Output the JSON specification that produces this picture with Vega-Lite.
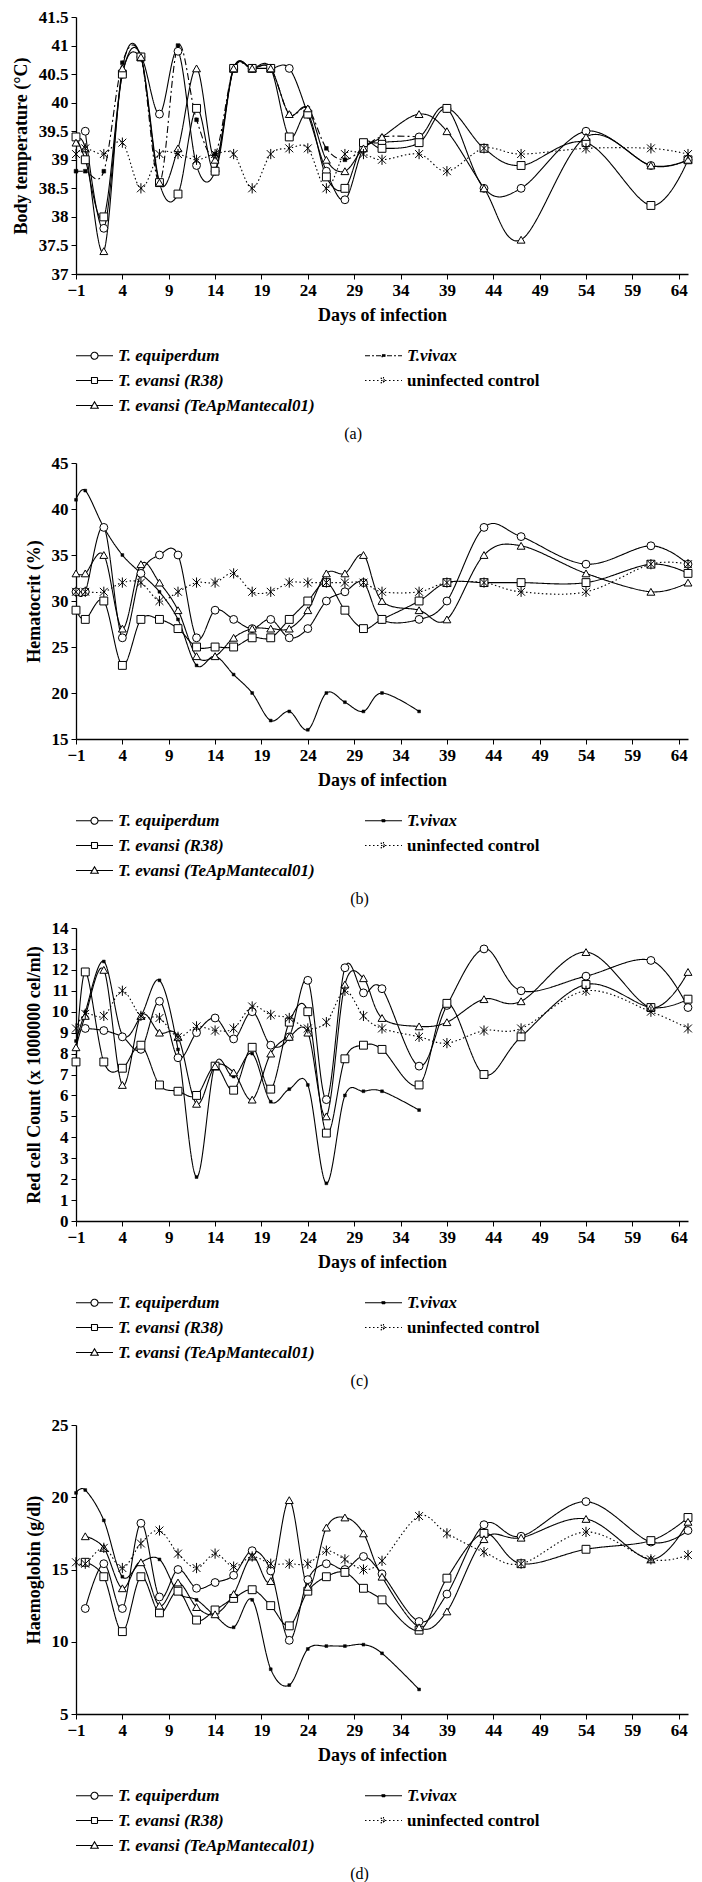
{
  "$schema": "https://vega.github.io/schema/vega-lite/v6.json",
  "padding": {"top": 8, "left": 12, "right": 5, "bottom": 5},
  "background": "white",
  "config": {
    "view": {"stroke": null},
    "font": "Liberation Serif",
    "axis": {"grid": false, "domainColor": "black", "domainWidth": 1.3, "tickColor": "black", "tickSize": 5, "labelColor": "black", "titleColor": "black", "labelFont": "Liberation Serif", "labelFontWeight": "bold", "labelFontSize": 17, "titleFont": "Liberation Serif", "titleFontWeight": "bold", "titleFontSize": 18, "labelPadding": 3},
    "axisY": {"titlePadding": 8},
    "axisX": {"titlePadding": 8, "labelFlush": false},
    "title": {"font": "Liberation Serif", "fontSize": 16, "fontWeight": "normal", "color": "black", "orient": "bottom", "anchor": "middle", "frame": "bounds", "offset": 12},
    "legend": {"orient": "bottom", "columns": 2, "symbolSize": 100, "symbolOffset": 10, "columnPadding": 47, "rowPadding": 7, "labelFont": "Liberation Serif", "labelFontSize": 17, "labelFontWeight": "bold", "labelColor": "black", "labelLimit": 400, "labelOffset": 15, "symbolStrokeWidth": 1.1, "symbolStrokeColor": "black", "offset": 23, "padding": 0,
      "labelFontStyle": {"expr": "datum.value == 'ctl' ? 'normal' : 'italic'"},
      "symbolType": {"expr": "datum.value == 'eq' ? 'M-3.7,0H-0.7M0.7,0H3.7M-0.7,0A0.7,0.7,0,1,1,0.7,0A0.7,0.7,0,1,1,-0.7,0Z' : datum.value == 'r38' ? 'M-3.7,0H-0.6M0.6,0H3.7M-0.6,-0.6H0.6V0.6H-0.6Z' : datum.value == 'tea' ? 'M-3.7,0H-0.42M0.42,0H3.7M0,-0.75L0.75,0.55H-0.75Z' : datum.value == 'viv' ? 'M-3.7,0H3.7M-0.3,-0.2H0.3V0.2H-0.3Z' : 'M-3.7,0H3.7M-0.55,-0.55L0.55,0.55M-0.55,0.55L0.55,-0.55M0,-0.7V0.7'"},
      "symbolFillColor": {"expr": "datum.value == 'viv' ? 'black' : 'white'"}}
  },
  "datasets": {
    "a": [
      {"d": -1, "eq": null, "r38": 39.4, "tea": 39.3, "viv": 38.8, "ctl": 39.1},
      {"d": 0, "eq": 39.5, "r38": 39.0, "tea": 39.2, "viv": 38.8, "ctl": 39.2},
      {"d": 2, "eq": 37.8, "r38": 38.0, "tea": 37.4, "viv": 38.8, "ctl": 39.1},
      {"d": 4, "eq": 40.5, "r38": 40.5, "tea": 40.6, "viv": 40.7, "ctl": 39.3},
      {"d": 6, "eq": 40.8, "r38": 40.8, "tea": 40.8, "viv": 40.8, "ctl": 38.5},
      {"d": 8, "eq": 39.8, "r38": 38.6, "tea": 38.6, "viv": 38.6, "ctl": 39.1},
      {"d": 10, "eq": 40.9, "r38": 38.4, "tea": 39.2, "viv": 41.0, "ctl": 39.1},
      {"d": 12, "eq": 38.9, "r38": 39.9, "tea": 40.6, "viv": 39.7, "ctl": 39.0},
      {"d": 14, "eq": 38.8, "r38": 38.8, "tea": 39.0, "viv": 39.1, "ctl": 39.1},
      {"d": 16, "eq": 40.6, "r38": 40.6, "tea": 40.6, "viv": 40.6, "ctl": 39.1},
      {"d": 18, "eq": 40.6, "r38": 40.6, "tea": 40.6, "viv": 40.6, "ctl": 38.5},
      {"d": 20, "eq": 40.6, "r38": 40.6, "tea": 40.6, "viv": 40.6, "ctl": 39.1},
      {"d": 22, "eq": 40.6, "r38": 39.4, "tea": 39.8, "viv": 39.8, "ctl": 39.2},
      {"d": 24, "eq": 39.8, "r38": 39.8, "tea": 39.9, "viv": 39.9, "ctl": 39.2},
      {"d": 26, "eq": 38.8, "r38": 38.7, "tea": 39.0, "viv": 39.2, "ctl": 38.5},
      {"d": 28, "eq": 38.3, "r38": 38.5, "tea": 38.8, "viv": 39.0, "ctl": 39.1},
      {"d": 30, "eq": 39.2, "r38": 39.3, "tea": 39.2, "viv": 39.2, "ctl": 39.1},
      {"d": 32, "eq": 39.3, "r38": 39.2, "tea": 39.4, "viv": 39.4, "ctl": 39.0},
      {"d": 36, "eq": 39.4, "r38": 39.3, "tea": 39.8, "viv": 39.4, "ctl": 39.1},
      {"d": 39, "eq": 39.9, "r38": 39.9, "tea": 39.5, "viv": null, "ctl": 38.8},
      {"d": 43, "eq": 38.5, "r38": 39.2, "tea": 38.5, "viv": null, "ctl": 39.2},
      {"d": 47, "eq": 38.5, "r38": 38.9, "tea": 37.6, "viv": null, "ctl": 39.1},
      {"d": 54, "eq": 39.5, "r38": 39.3, "tea": 39.4, "viv": null, "ctl": 39.2},
      {"d": 61, "eq": 38.9, "r38": 38.2, "tea": 38.9, "viv": null, "ctl": 39.2},
      {"d": 65, "eq": 39.0, "r38": 39.0, "tea": 39.0, "viv": null, "ctl": 39.1}
    ],
    "b": [
      {"d": -1, "eq": 31, "r38": 29, "tea": 33, "viv": 41, "ctl": 31},
      {"d": 0, "eq": 31, "r38": 28, "tea": 33, "viv": 42, "ctl": 31},
      {"d": 2, "eq": 38, "r38": 30, "tea": 35, "viv": 38, "ctl": 31},
      {"d": 4, "eq": 26, "r38": 23, "tea": 27, "viv": 35, "ctl": 32},
      {"d": 6, "eq": 33, "r38": 28, "tea": 34, "viv": 33, "ctl": 32},
      {"d": 8, "eq": 35, "r38": 28, "tea": 32, "viv": 31, "ctl": 30},
      {"d": 10, "eq": 35, "r38": 27, "tea": 29, "viv": 28, "ctl": 31},
      {"d": 12, "eq": 26, "r38": 25, "tea": 24, "viv": 23, "ctl": 32},
      {"d": 14, "eq": 29, "r38": 25, "tea": 24, "viv": 24, "ctl": 32},
      {"d": 16, "eq": 28, "r38": 25, "tea": 26, "viv": 22, "ctl": 33},
      {"d": 18, "eq": 27, "r38": 26, "tea": 27, "viv": 20, "ctl": 31},
      {"d": 20, "eq": 28, "r38": 26, "tea": 27, "viv": 17, "ctl": 31},
      {"d": 22, "eq": 26, "r38": 28, "tea": 27, "viv": 18, "ctl": 32},
      {"d": 24, "eq": 27, "r38": 30, "tea": 29, "viv": 16, "ctl": 32},
      {"d": 26, "eq": 30, "r38": 32, "tea": 33, "viv": 20, "ctl": 32},
      {"d": 28, "eq": 31, "r38": 29, "tea": 33, "viv": 19, "ctl": 32},
      {"d": 30, "eq": 32, "r38": 27, "tea": 35, "viv": 18, "ctl": 32},
      {"d": 32, "eq": 28, "r38": 28, "tea": 30, "viv": 20, "ctl": 31},
      {"d": 36, "eq": 28, "r38": 30, "tea": 29, "viv": 18, "ctl": 31},
      {"d": 39, "eq": 30, "r38": 32, "tea": 28, "viv": null, "ctl": 32},
      {"d": 43, "eq": 38, "r38": 32, "tea": 35, "viv": null, "ctl": 32},
      {"d": 47, "eq": 37, "r38": 32, "tea": 36, "viv": null, "ctl": 31},
      {"d": 54, "eq": 34, "r38": 32, "tea": 33, "viv": null, "ctl": 31},
      {"d": 61, "eq": 36, "r38": 34, "tea": 31, "viv": null, "ctl": 34},
      {"d": 65, "eq": 34, "r38": 33, "tea": 32, "viv": null, "ctl": 34}
    ],
    "c": [
      {"d": -1, "eq": null, "r38": 7.6, "tea": 8.3, "viv": 8.6, "ctl": 9.2},
      {"d": 0, "eq": 9.2, "r38": 11.9, "tea": 9.8, "viv": 10.0, "ctl": 9.9},
      {"d": 2, "eq": 9.1, "r38": 7.6, "tea": 12.0, "viv": 12.4, "ctl": 9.8},
      {"d": 4, "eq": 8.8, "r38": 7.3, "tea": 6.5, "viv": 8.9, "ctl": 11.0},
      {"d": 6, "eq": 8.2, "r38": 8.4, "tea": 9.8, "viv": 9.8, "ctl": 9.8},
      {"d": 8, "eq": 10.5, "r38": 6.5, "tea": 9.0, "viv": 11.5, "ctl": 9.7},
      {"d": 10, "eq": 7.8, "r38": 6.2, "tea": 8.8, "viv": 8.2, "ctl": 8.8},
      {"d": 12, "eq": 9.0, "r38": 6.0, "tea": 5.6, "viv": 2.1, "ctl": 9.3},
      {"d": 14, "eq": 9.7, "r38": 7.4, "tea": 7.4, "viv": 7.5, "ctl": 9.1},
      {"d": 16, "eq": 8.7, "r38": 6.25, "tea": 7.1, "viv": 6.9, "ctl": 9.2},
      {"d": 18, "eq": 10.0, "r38": 8.3, "tea": 5.8, "viv": 8.0, "ctl": 10.25},
      {"d": 20, "eq": 8.4, "r38": 6.3, "tea": 8.0, "viv": 5.7, "ctl": 9.85},
      {"d": 22, "eq": 8.8, "r38": 9.5, "tea": 8.8, "viv": 6.3, "ctl": 9.7},
      {"d": 24, "eq": 11.5, "r38": 10.0, "tea": 9.0, "viv": 6.5, "ctl": 9.2},
      {"d": 26, "eq": 5.8, "r38": 4.2, "tea": 5.0, "viv": 1.8, "ctl": 9.5},
      {"d": 28, "eq": 12.1, "r38": 7.75, "tea": 11.3, "viv": 6.0, "ctl": 11.0},
      {"d": 30, "eq": 10.9, "r38": 8.4, "tea": 11.6, "viv": 6.2, "ctl": 9.8},
      {"d": 32, "eq": 11.1, "r38": 8.2, "tea": 9.7, "viv": 6.2, "ctl": 9.2},
      {"d": 36, "eq": 7.4, "r38": 6.5, "tea": 9.3, "viv": 5.3, "ctl": 8.8},
      {"d": 39, "eq": 10.3, "r38": 10.4, "tea": 9.5, "viv": null, "ctl": 8.5},
      {"d": 43, "eq": 13.0, "r38": 7.0, "tea": 10.6, "viv": null, "ctl": 9.1},
      {"d": 47, "eq": 11.0, "r38": 8.8, "tea": 10.5, "viv": null, "ctl": 9.2},
      {"d": 54, "eq": 11.7, "r38": 11.3, "tea": 12.85, "viv": null, "ctl": 11.0},
      {"d": 61, "eq": 12.45, "r38": 10.2, "tea": 10.2, "viv": null, "ctl": 10.0},
      {"d": 65, "eq": 10.2, "r38": 10.6, "tea": 11.9, "viv": null, "ctl": 9.2}
    ],
    "d": [
      {"d": -1, "eq": null, "r38": null, "tea": null, "viv": 20.3, "ctl": 15.5},
      {"d": 0, "eq": 12.3, "r38": 15.5, "tea": 17.3, "viv": 20.5, "ctl": 15.4},
      {"d": 2, "eq": 15.4, "r38": 14.5, "tea": 16.5, "viv": 18.4, "ctl": 16.5},
      {"d": 4, "eq": 12.3, "r38": 10.7, "tea": 13.7, "viv": 14.5, "ctl": 15.1},
      {"d": 6, "eq": 18.2, "r38": 14.5, "tea": 15.5, "viv": 15.5, "ctl": 16.8},
      {"d": 8, "eq": 13.1, "r38": 12.0, "tea": 12.5, "viv": 15.7, "ctl": 17.7},
      {"d": 10, "eq": 15.0, "r38": 13.5, "tea": 14.1, "viv": 13.4, "ctl": 16.1},
      {"d": 12, "eq": 13.7, "r38": 11.5, "tea": 12.4, "viv": 12.9, "ctl": 15.1},
      {"d": 14, "eq": 14.1, "r38": 12.2, "tea": 11.9, "viv": 11.8, "ctl": 16.1},
      {"d": 16, "eq": 14.6, "r38": 13.0, "tea": 13.3, "viv": 11.0, "ctl": 15.2},
      {"d": 18, "eq": 16.3, "r38": 13.6, "tea": 15.9, "viv": 12.9, "ctl": 15.9},
      {"d": 20, "eq": 14.9, "r38": 12.5, "tea": 14.2, "viv": 8.1, "ctl": 15.4},
      {"d": 22, "eq": 10.1, "r38": 11.1, "tea": 19.8, "viv": 7.0, "ctl": 15.4},
      {"d": 24, "eq": 14.3, "r38": 13.5, "tea": 13.8, "viv": 9.5, "ctl": 15.4},
      {"d": 26, "eq": 15.4, "r38": 14.5, "tea": 17.9, "viv": 9.7, "ctl": 16.3},
      {"d": 28, "eq": 15.0, "r38": 14.8, "tea": 18.6, "viv": 9.7, "ctl": 15.7},
      {"d": 30, "eq": 15.9, "r38": 13.7, "tea": 17.5, "viv": 9.8, "ctl": 15.0},
      {"d": 32, "eq": 14.7, "r38": 12.9, "tea": 14.5, "viv": 9.2, "ctl": 15.6},
      {"d": 36, "eq": 11.4, "r38": 10.8, "tea": 11.0, "viv": 6.7, "ctl": 18.7},
      {"d": 39, "eq": 13.3, "r38": 14.4, "tea": 12.1, "viv": null, "ctl": 17.5},
      {"d": 43, "eq": 18.1, "r38": 17.5, "tea": 17.1, "viv": null, "ctl": 16.2},
      {"d": 47, "eq": 17.3, "r38": 15.4, "tea": 17.2, "viv": null, "ctl": 15.4},
      {"d": 54, "eq": 19.7, "r38": 16.4, "tea": 18.5, "viv": null, "ctl": 17.6},
      {"d": 61, "eq": 16.9, "r38": 17.0, "tea": 15.7, "viv": null, "ctl": 15.7},
      {"d": 65, "eq": 17.7, "r38": 18.6, "tea": 18.3, "viv": null, "ctl": 16.0}
    ]
  },
  "spacing": 27,
  "resolve": {"scale": {"shape": "independent", "strokeDash": "independent", "color": "independent"}, "legend": {"shape": "independent", "color": "independent"}},
  "vconcat": [
    {
      "spacing": 12,
      "resolve": {"scale": {"shape": "independent", "strokeDash": "independent", "color": "independent"}, "legend": {"shape": "independent", "color": "independent"}},
      "vconcat": [
        {
          "data": {"name": "a"},
          "transform": [{"fold": ["eq", "r38", "tea", "viv", "ctl"], "as": ["k", "v"]}, {"filter": "datum.v != null"}],
          "width": 612, "height": 257,
          "title": {"text": "(a)"},
          "encoding": {
            "x": {"field": "d", "type": "quantitative", "scale": {"domain": [-1, 65], "nice": false}, "axis": {"values": [-1, 4, 9, 14, 19, 24, 29, 34, 39, 44, 49, 54, 59, 64], "title": "Days of infection"}},
            "y": {"field": "v", "type": "quantitative", "scale": {"domain": [37, 41.5], "nice": false, "zero": false}, "axis": {"values": [37, 37.5, 38, 38.5, 39, 39.5, 40, 40.5, 41, 41.5], "format": "~g", "title": "Body temperature (°C)"}}
          },
          "layer": [
            {"mark": {"type": "line", "interpolate": "cardinal", "tension": 0, "strokeWidth": 1.1},
             "encoding": {
               "color": {"field": "k", "type": "nominal", "scale": {"domain": ["eq", "viv", "r38", "ctl", "tea"], "range": ["black", "black", "black", "black", "black"]},
                 "legend": {"title": null,
                   "labelExpr": "datum.label == 'eq' ? 'T. equiperdum' : datum.label == 'r38' ? 'T. evansi (R38)' : datum.label == 'tea' ? 'T. evansi (TeApMantecal01)' : datum.label == 'viv' ? 'T.vivax' : 'uninfected control'",
                   "symbolDash": {"expr": "datum.value == 'ctl' ? [1.5, 2.5] : datum.value == 'viv' ? [5, 2, 2, 2] : [1, 0]"}}},
               "strokeDash": {"field": "k", "type": "nominal", "scale": {"domain": ["eq", "r38", "tea", "viv", "ctl"], "range": [[1, 0], [1, 0], [1, 0], [7, 3, 2, 3], [1.5, 2.5]]}, "legend": null}}},
            {"transform": [{"filter": "datum.k == 'viv'"}],
             "mark": {"type": "point", "shape": "square", "filled": true, "fill": "black", "stroke": "black", "strokeWidth": 0.5, "size": 14, "opacity": 1}},
            {"transform": [{"filter": "datum.k != 'viv'"}],
             "mark": {"type": "point", "filled": true, "fill": "white", "stroke": "black", "strokeWidth": 1, "size": 62, "opacity": 1},
             "encoding": {
               "shape": {"field": "k", "type": "nominal", "scale": {"domain": ["eq", "r38", "tea", "viv", "ctl"], "range": ["circle", "square", "triangle-up", "square", "M-1,-1L1,1M-1,1L1,-1M0,-1.3V1.3"]}, "legend": null}
             }}
          ]
        },
        {
          "data": {"name": "b"},
          "transform": [{"fold": ["eq", "r38", "tea", "viv", "ctl"], "as": ["k", "v"]}, {"filter": "datum.v != null"}],
          "width": 612, "height": 276,
          "title": {"text": "(b)"},
          "encoding": {
            "x": {"field": "d", "type": "quantitative", "scale": {"domain": [-1, 65], "nice": false}, "axis": {"values": [-1, 4, 9, 14, 19, 24, 29, 34, 39, 44, 49, 54, 59, 64], "title": "Days of infection"}},
            "y": {"field": "v", "type": "quantitative", "scale": {"domain": [15, 45], "nice": false, "zero": false}, "axis": {"values": [15, 20, 25, 30, 35, 40, 45], "title": "Hematocrit (%)"}}
          },
          "layer": [
            {"mark": {"type": "line", "interpolate": "cardinal", "tension": 0, "strokeWidth": 1.1},
             "encoding": {
               "color": {"field": "k", "type": "nominal", "scale": {"domain": ["eq", "viv", "r38", "ctl", "tea"], "range": ["black", "black", "black", "black", "black"]},
                 "legend": {"title": null,
                   "labelExpr": "datum.label == 'eq' ? 'T. equiperdum' : datum.label == 'r38' ? 'T. evansi (R38)' : datum.label == 'tea' ? 'T. evansi (TeApMantecal01)' : datum.label == 'viv' ? 'T.vivax' : 'uninfected control'",
                   "symbolDash": {"expr": "datum.value == 'ctl' ? [1.5, 2.5] : [1, 0]"}}},
               "strokeDash": {"field": "k", "type": "nominal", "scale": {"domain": ["eq", "r38", "tea", "viv", "ctl"], "range": [[1, 0], [1, 0], [1, 0], [1, 0], [1.5, 2.5]]}, "legend": null}}},
            {"transform": [{"filter": "datum.k == 'viv'"}],
             "mark": {"type": "point", "shape": "square", "filled": true, "fill": "black", "stroke": "black", "strokeWidth": 0.5, "size": 8, "opacity": 1}},
            {"transform": [{"filter": "datum.k != 'viv'"}],
             "mark": {"type": "point", "filled": true, "fill": "white", "stroke": "black", "strokeWidth": 1, "size": 62, "opacity": 1},
             "encoding": {
               "shape": {"field": "k", "type": "nominal", "scale": {"domain": ["eq", "r38", "tea", "viv", "ctl"], "range": ["circle", "square", "triangle-up", "square", "M-1,-1L1,1M-1,1L1,-1M0,-1.3V1.3"]}, "legend": null}
             }}
          ]
        },
        {
          "data": {"name": "c"},
          "transform": [{"fold": ["eq", "r38", "tea", "viv", "ctl"], "as": ["k", "v"]}, {"filter": "datum.v != null"}],
          "width": 612, "height": 293,
          "title": {"text": "(c)"},
          "encoding": {
            "x": {"field": "d", "type": "quantitative", "scale": {"domain": [-1, 65], "nice": false}, "axis": {"values": [-1, 4, 9, 14, 19, 24, 29, 34, 39, 44, 49, 54, 59, 64], "title": "Days of infection"}},
            "y": {"field": "v", "type": "quantitative", "scale": {"domain": [0, 14], "nice": false}, "axis": {"values": [0, 1, 2, 3, 4, 5, 6, 7, 8, 9, 10, 11, 12, 13, 14], "title": "Red cell Count (x 1000000 cel/ml)"}}
          },
          "layer": [
            {"mark": {"type": "line", "interpolate": "cardinal", "tension": 0, "strokeWidth": 1.1},
             "encoding": {
               "color": {"field": "k", "type": "nominal", "scale": {"domain": ["eq", "viv", "r38", "ctl", "tea"], "range": ["black", "black", "black", "black", "black"]},
                 "legend": {"title": null,
                   "labelExpr": "datum.label == 'eq' ? 'T. equiperdum' : datum.label == 'r38' ? 'T. evansi (R38)' : datum.label == 'tea' ? 'T. evansi (TeApMantecal01)' : datum.label == 'viv' ? 'T.vivax' : 'uninfected control'",
                   "symbolDash": {"expr": "datum.value == 'ctl' ? [1.5, 2.5] : [1, 0]"}}},
               "strokeDash": {"field": "k", "type": "nominal", "scale": {"domain": ["eq", "r38", "tea", "viv", "ctl"], "range": [[1, 0], [1, 0], [1, 0], [1, 0], [1.5, 2.5]]}, "legend": null}}},
            {"transform": [{"filter": "datum.k == 'viv'"}],
             "mark": {"type": "point", "shape": "square", "filled": true, "fill": "black", "stroke": "black", "strokeWidth": 0.5, "size": 8, "opacity": 1}},
            {"transform": [{"filter": "datum.k != 'viv'"}],
             "mark": {"type": "point", "filled": true, "fill": "white", "stroke": "black", "strokeWidth": 1, "size": 62, "opacity": 1},
             "encoding": {
               "shape": {"field": "k", "type": "nominal", "scale": {"domain": ["eq", "r38", "tea", "viv", "ctl"], "range": ["circle", "square", "triangle-up", "square", "M-1,-1L1,1M-1,1L1,-1M0,-1.3V1.3"]}, "legend": null}
             }}
          ]
        }
      ]
    },
    {
      "data": {"name": "d"},
      "transform": [{"fold": ["eq", "r38", "tea", "viv", "ctl"], "as": ["k", "v"]}, {"filter": "datum.v != null"}],
      "width": 612, "height": 289,
      "title": {"text": "(d)"},
      "encoding": {
        "x": {"field": "d", "type": "quantitative", "scale": {"domain": [-1, 65], "nice": false}, "axis": {"values": [-1, 4, 9, 14, 19, 24, 29, 34, 39, 44, 49, 54, 59, 64], "title": "Days of infection"}},
        "y": {"field": "v", "type": "quantitative", "scale": {"domain": [5, 25], "nice": false, "zero": false}, "axis": {"values": [5, 10, 15, 20, 25], "title": "Haemoglobin (g/dl)"}}
      },
      "layer": [
        {"mark": {"type": "line", "interpolate": "cardinal", "tension": 0, "strokeWidth": 1.1},
         "encoding": {
           "color": {"field": "k", "type": "nominal", "scale": {"domain": ["eq", "viv", "r38", "ctl", "tea"], "range": ["black", "black", "black", "black", "black"]},
             "legend": {"title": null,
               "labelExpr": "datum.label == 'eq' ? 'T. equiperdum' : datum.label == 'r38' ? 'T. evansi (R38)' : datum.label == 'tea' ? 'T. evansi (TeApMantecal01)' : datum.label == 'viv' ? 'T.vivax' : 'uninfected control'",
               "symbolDash": {"expr": "datum.value == 'ctl' ? [1.5, 2.5] : [1, 0]"}}},
           "strokeDash": {"field": "k", "type": "nominal", "scale": {"domain": ["eq", "r38", "tea", "viv", "ctl"], "range": [[1, 0], [1, 0], [1, 0], [1, 0], [1.5, 2.5]]}, "legend": null}}},
        {"transform": [{"filter": "datum.k == 'viv'"}],
         "mark": {"type": "point", "shape": "square", "filled": true, "fill": "black", "stroke": "black", "strokeWidth": 0.5, "size": 8, "opacity": 1}},
        {"transform": [{"filter": "datum.k != 'viv'"}],
         "mark": {"type": "point", "filled": true, "fill": "white", "stroke": "black", "strokeWidth": 1, "size": 62, "opacity": 1},
         "encoding": {
           "shape": {"field": "k", "type": "nominal", "scale": {"domain": ["eq", "r38", "tea", "viv", "ctl"], "range": ["circle", "square", "triangle-up", "square", "M-1,-1L1,1M-1,1L1,-1M0,-1.3V1.3"]}, "legend": null}
         }}
      ]
    }
  ]
}
